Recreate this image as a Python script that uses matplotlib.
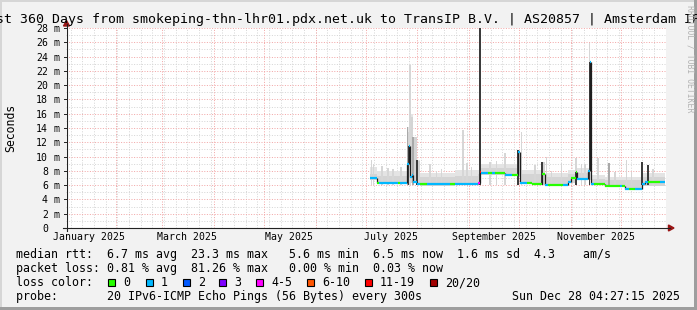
import numpy as np
import pandas as pd
import matplotlib
matplotlib.use("Agg")
import matplotlib.pyplot as plt
import matplotlib.dates as mdates
from matplotlib.transforms import blended_transform_factory
from matplotlib.patches import Rectangle, Polygon

W, H = 697, 310
MONO = "DejaVu Sans Mono"

title = "Last 360 Days from smokeping-thn-lhr01.pdx.net.uk to TransIP B.V. | AS20857 | Amsterdam IPv6"
t_start = "2025-01-02 04:27:15"
t_end = "2025-12-28 04:27:15"
data_end = "2025-12-27 20:00"

# median rtt, step segments (start time, ms, loss class)
med_time = ["2025-07-03 14:00", "2025-07-07 19:00", "2025-07-08 17:00", "2025-07-20 10:00",
            "2025-07-21 14:00", "2025-07-25 19:00", "2025-07-26 17:00", "2025-07-27 14:00",
            "2025-07-28 17:00", "2025-07-29 14:00", "2025-07-31 19:00", "2025-08-02 14:00",
            "2025-08-06 19:00", "2025-08-20 14:00", "2025-08-23 14:00", "2025-09-06 10:00",
            "2025-09-07 14:00", "2025-09-08 05:00", "2025-09-12 10:00", "2025-09-15 00:00",
            "2025-09-16 12:00", "2025-09-22 14:00", "2025-09-26 19:00", "2025-09-30 10:00",
            "2025-10-01 14:00", "2025-10-05 19:00", "2025-10-08 19:00", "2025-10-14 19:00",
            "2025-10-16 14:00", "2025-10-18 12:00", "2025-10-27 12:00", "2025-10-30 10:00",
            "2025-11-01 05:00", "2025-11-04 05:00", "2025-11-04 19:00", "2025-11-11 10:00",
            "2025-11-12 07:00", "2025-11-13 05:00", "2025-11-15 00:00", "2025-11-21 14:00",
            "2025-11-30 12:00", "2025-12-01 12:00", "2025-12-03 14:00", "2025-12-06 00:00",
            "2025-12-09 12:00", "2025-12-13 19:00", "2025-12-15 14:00", "2025-12-17 12:00",
            "2025-12-24 14:00"]
med_ms = [6.95, 6.35, 6.35, 6.35,
          6.35, 9.0, 11.5, 7.2,
          7.4, 6.5, 6.2, 6.15,
          6.15, 6.15, 6.2, 6.3,
          7.9, 7.65, 7.65, 7.65,
          7.65, 7.4, 7.4, 10.6,
          6.3, 6.3, 6.15, 7.6,
          6.05, 6.05, 6.05, 6.5,
          6.95, 7.9, 6.9, 8.0,
          23.3, 6.2, 6.2, 5.95,
          5.95, 5.95, 5.5, 5.5,
          5.5, 6.1, 6.5, 6.5,
          6.5]
med_loss = [1, 0, 1, 0,
            1, 1, 1, 1,
            1, 1, 1, 0,
            1, 0, 1, 4,
            6, 1, 0, 1,
            0, 1, 0, 1,
            1, 0, 0, 0,
            1, 0, 1, 1,
            0, 0, 1, 1,
            1, 1, 0, 0,
            1, 0, 1, 0,
            1, 1, 1, 0,
            1]

# smoke band (start time, low, dense top, light top)
smoke_time = ["2025-07-03 14:00", "2025-07-07 19:00", "2025-07-25 19:00", "2025-07-27 14:00",
              "2025-07-29 10:00", "2025-07-31 19:00", "2025-08-02 14:00", "2025-08-23 14:00",
              "2025-09-06 10:00", "2025-09-08 05:00", "2025-09-30 10:00", "2025-10-01 14:00",
              "2025-10-14 19:00", "2025-10-16 14:00", "2025-10-30 10:00", "2025-11-04 19:00",
              "2025-11-13 05:00", "2025-11-21 14:00", "2025-12-03 14:00", "2025-12-13 19:00"]
smoke_lo = [6.75, 6.15, 6.2, 6.3, 6.3, 6.0, 5.95, 6.0, 6.1, 7.45,
            7.2, 6.1, 6.0, 5.85, 6.3, 6.7, 6.0, 5.75, 5.35, 5.9]
smoke_mid = [7.6, 7.3, 13.5, 15.5, 12.8, 9.4, 7.1, 7.3, 7.5, 8.4,
             10.9, 7.5, 9.3, 7.1, 7.5, 7.7, 6.9, 6.7, 6.7, 7.1]
smoke_hi = [8.6, 8.0, 14.2, 16.0, 12.8, 9.5, 7.7, 8.1, 8.1, 9.0,
            10.9, 8.1, 9.3, 7.7, 8.1, 8.4, 7.4, 7.2, 7.2, 7.7]

# narrow smoke spikes
spike_time = ["2025-07-04 12:00", "2025-07-05 20:00", "2025-07-10 19:00", "2025-07-14 10:00",
              "2025-07-17 12:00", "2025-07-22 06:00", "2025-07-26 00:00", "2025-07-27 14:00",
              "2025-07-26 17:00", "2025-07-29 10:00", "2025-07-31 19:00", "2025-08-08 14:00",
              "2025-08-12 12:00", "2025-08-15 12:00", "2025-08-28 10:00", "2025-08-30 19:00",
              "2025-09-02 12:00", "2025-09-07 14:00", "2025-09-13 12:00", "2025-09-17 12:00",
              "2025-09-22 14:00", "2025-09-30 10:00", "2025-10-02 14:00", "2025-10-10 14:00",
              "2025-10-14 19:00", "2025-10-17 14:00", "2025-10-20 12:00", "2025-10-26 14:00",
              "2025-11-04 05:00", "2025-11-04 05:00", "2025-11-07 12:00", "2025-11-09 14:00",
              "2025-11-12 07:00", "2025-11-12 07:00", "2025-11-17 10:00", "2025-11-24 00:00",
              "2025-11-27 12:00", "2025-12-04 14:00", "2025-12-07 12:00", "2025-12-13 19:00",
              "2025-12-17 10:00", "2025-12-20 12:00"]
spike_top = [9.5, 9.0, 8.7, 8.4,
             8.3, 8.6, 14.2, 22.8,
             11.5, 12.8, 9.5, 9.0,
             8.0, 8.3, 13.7, 9.1,
             8.6, 28.0, 9.3, 9.4,
             10.5, 10.9, 13.5, 8.8,
             9.3, 10.0, 8.0, 9.15,
             9.85, 7.9, 8.9, 8.9,
             25.9, 23.3, 9.75, 9.06,
             7.8, 9.5, 7.8, 9.3,
             8.8, 8.2]
spike_tone = ["light", "light", "light", "light",
              "light", "light", "mid", "light",
              "dark", "mid", "dark", "light",
              "light", "light", "light", "light",
              "light", "dark", "light", "light",
              "light", "dark", "light", "light",
              "dark", "light", "light", "light",
              "light", "dark", "light", "light",
              "light", "dark", "light", "mid",
              "light", "light", "light", "dark",
              "dark", "light"]

loss_labels = ["0", "1", "2", "3", "4-5", "6-10", "11-19", "20/20"]
loss_colors = ["#26ff00", "#00b8ff", "#0059ff", "#7e00ff", "#ff00ff", "#ff5500", "#ff0000", "#a10000"]

month_labels = ["January 2025", "March 2025", "May 2025", "July 2025", "September 2025", "November 2025"]
month_label_at = ["2025-01-16", "2025-03-16", "2025-05-16", "2025-07-16", "2025-09-16", "2025-11-16"]

line_rtt = "median rtt:  6.7 ms avg  23.3 ms max   5.6 ms min  6.5 ms now  1.6 ms sd  4.3    am/s"
line_loss = "packet loss: 0.81 % avg  81.26 % max   0.00 % min  0.03 % now"
line_probe = "probe:       20 IPv6-ICMP Echo Pings (56 Bytes) every 300s"
stamp = "Sun Dec 28 04:27:15 2025"


def num(ts):
    return mdates.date2num(pd.to_datetime(ts).to_pydatetime())


def px(x, y):
    return x / W, 1 - y / H


fig = plt.figure(figsize=(W / 100, H / 100), dpi=100, facecolor="#f2f2f2")
ax = fig.add_axes([66 / W, (H - 228) / H, 600 / W, 200 / H])
ax.set_facecolor("white")
for s in ax.spines.values():
    s.set_visible(False)
ax.set_xlim(num(t_start), num(t_end))
ax.set_ylim(0, 28)

# grid
weeks = num(pd.date_range("2024-12-29", "2025-12-28", freq="7D"))
months = num(pd.date_range("2025-02-01", "2025-12-01", freq="MS"))
dots = (0, (1, 1.6))
ax.vlines(weeks, 0, 28, colors="#d6d6d6", linestyles=dots, lw=0.72, zorder=0)
ax.hlines(np.arange(1, 28, 2), num(t_start), num(t_end), colors="#d6d6d6",
          linestyles=dots, lw=0.72, zorder=0)
ax.vlines(months, 0, 28, colors="#f2a8a8", linestyles=dots, lw=0.72, zorder=0.5)
ax.hlines(np.arange(2, 29, 2), num(t_start), num(t_end), colors="#f2a8a8",
          linestyles=dots, lw=0.72, zorder=0.5)

# smoke
sx = np.append(num(smoke_time), num(data_end))
ax.fill_between(sx, smoke_lo + smoke_lo[-1:], smoke_hi + smoke_hi[-1:], step="post",
                color="#e4e4e4", lw=0, zorder=1)
ax.fill_between(sx, smoke_lo + smoke_lo[-1:], smoke_mid + smoke_mid[-1:], step="post",
                color="#d4d4d4", lw=0, zorder=1.1)

tone_col = {"light": "#d6d6d6", "mid": "#a9a9a9", "dark": "#3c3c3c"}
tone_z = {"light": 1.2, "mid": 1.3, "dark": 1.4}
for t, top, tone in zip(spike_time, spike_top, spike_tone):
    ax.bar(num(t), top - 6.0, bottom=6.0, width=0.9, color=tone_col[tone], lw=0,
           zorder=tone_z[tone])

# median line coloured by loss
mx = np.append(num(med_time), num(data_end))
ax.vlines(mx[1:-1], np.minimum(med_ms[:-1], med_ms[1:]), np.maximum(med_ms[:-1], med_ms[1:]),
          colors="#1e1e1e", lw=0.9, zorder=2)
ax.hlines(med_ms, mx[:-1], mx[1:], colors=[loss_colors[k] for k in med_loss], lw=1.6, zorder=3)

# x labels via the axis
ax.set_xticks(num(month_label_at), labels=month_labels)
ax.tick_params(axis="x", length=0, pad=3.2, labelsize=7.1)
for lab in ax.get_xticklabels():
    lab.set_family(MONO)
ax.set_yticks([])

# y labels
ytr = blended_transform_factory(fig.transFigure, ax.transData)
for v in range(0, 29, 2):
    ax.text(48 / W, v, str(v), transform=ytr, ha="right", va="center_baseline",
            fontsize=7.1, family=MONO)
    if v:
        ax.text(54 / W, v, "m", transform=ytr, ha="left", va="center_baseline",
                fontsize=7.1, family=MONO)

# axes lines and arrows
fig.add_artist(plt.Line2D([66.5 / W, 66.5 / W], [1 - 231 / H, 1 - 24 / H], color="#222222", lw=0.8))
fig.add_artist(plt.Line2D([63 / W, 670 / W], [1 - 228 / H, 1 - 228 / H], color="#222222", lw=0.8))
fig.add_artist(Polygon([px(66.5, 20.5), px(63.5, 26), px(69.5, 26)], closed=True,
                       color="#9a1515", transform=fig.transFigure))
fig.add_artist(Polygon([px(674, 228), px(668.5, 225), px(668.5, 231)], closed=True,
                       color="#9a1515", transform=fig.transFigure))
for v in range(2, 29, 2):
    y = 1 - (228 - v * 200 / 28) / H
    fig.add_artist(plt.Line2D([64 / W, 66.5 / W], [y, y], color="#222222", lw=0.7))

# texts
fig.text(*px(348.5, 23.3), title, ha="center", va="baseline", fontsize=9.5, family=MONO)
fig.text(*px(11, 128), "Seconds", rotation=90, ha="center", va="center", fontsize=8.3, family=MONO)
fig.text(*px(690, 5), "RRDTOOL / TOBI OETIKER", rotation=270, ha="center", va="top",
         fontsize=5.9, family=MONO, color="#b3b3b3")

fig.text(*px(16, 258), line_rtt, ha="left", va="baseline", fontsize=8.4, family=MONO)
fig.text(*px(16, 272), line_loss, ha="left", va="baseline", fontsize=8.4, family=MONO)
fig.text(*px(16, 286), "loss color:", ha="left", va="baseline", fontsize=8.4, family=MONO)
fig.text(*px(16, 300), line_probe, ha="left", va="baseline", fontsize=8.4, family=MONO)
fig.text(*px(680, 300), stamp, ha="right", va="baseline", fontsize=8.4, family=MONO)

box_x = [108, 146, 183, 219, 256, 307, 365, 430]
for bx, lab, col in zip(box_x, loss_labels, loss_colors):
    fig.add_artist(Rectangle(px(bx, 286), 7 / W, 7.5 / H, transform=fig.transFigure,
                             facecolor=col, edgecolor="black", lw=0.8))
    fig.text(*px(bx + 15, 286), lab, ha="left", va="baseline", fontsize=8.4, family=MONO)

# 3d frame
fig.add_artist(Rectangle((0, 1 - 2 / H), 1, 2 / H, transform=fig.transFigure, color="#d6d6d6", lw=0))
fig.add_artist(Rectangle((0, 0), 2 / W, 1, transform=fig.transFigure, color="#d6d6d6", lw=0))
fig.add_artist(Rectangle((1 - 3 / W, 0), 3 / W, 1, transform=fig.transFigure, color="#9e9e9e", lw=0))
fig.add_artist(Rectangle((0, 0), 1, 3 / H, transform=fig.transFigure, color="#9e9e9e", lw=0))

fig.savefig("out.png", dpi=100, facecolor=fig.get_facecolor())
